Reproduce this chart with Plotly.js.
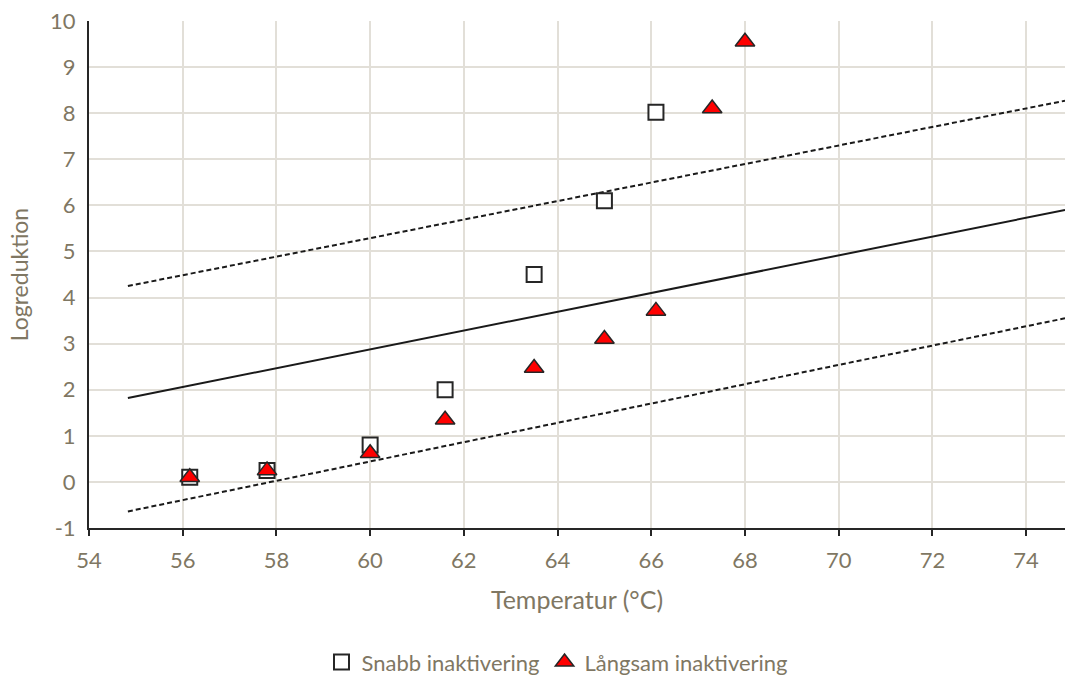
<!DOCTYPE html>
<html><head><meta charset="utf-8">
<script src="https://cdn.plot.ly/plotly-3.0.1.min.js"></script>
<style>body{margin:0;background:#fff}#c{width:1065px;height:675px}</style>
</head><body><div id="c"></div>
<script>
const snabbX = [56.15, 57.8, 60, 61.6, 63.5, 65, 66.1];
const snabbY = [0.1, 0.25, 0.8, 2.0, 4.5, 6.1, 8.02];
const langX = [56.15, 57.8, 60, 61.6, 63.5, 65, 66.1, 67.3, 68];
const langY = [0.1, 0.25, 0.62, 1.35, 2.47, 3.1, 3.71, 8.1, 9.55];
const lineX = [54.83, 74.83];
const midY = [1.82, 5.9];
const upperY = [4.25, 8.27];
const lowerY = [-0.64, 3.55];
const xTicks = [54, 56, 58, 60, 62, 64, 66, 68, 70, 72, 74];
const yTicks = [-1, 0, 1, 2, 3, 4, 5, 6, 7, 8, 9, 10];

const txt = '#7f7763';
const traces = [
  {x: lineX, y: midY, mode: 'lines', line: {color: '#1a1a1a', width: 2}, showlegend: false, hoverinfo: 'skip'},
  {x: lineX, y: upperY, mode: 'lines', line: {color: '#1a1a1a', width: 2, dash: '5px,3px'}, showlegend: false, hoverinfo: 'skip'},
  {x: lineX, y: lowerY, mode: 'lines', line: {color: '#1a1a1a', width: 2, dash: '5px,3px'}, showlegend: false, hoverinfo: 'skip'},
  {x: snabbX, y: snabbY, mode: 'markers', name: 'Snabb inaktivering',
   marker: {symbol: 'square', size: 15, color: '#ffffff', line: {color: '#262626', width: 2}}},
  {x: langX, y: langY, mode: 'markers', name: 'Långsam inaktivering',
   marker: {symbol: 'triangle-up', size: 17, color: '#ff0000', line: {color: '#262626', width: 1.5}}}
];
const layout = {
  width: 1065, height: 675,
  margin: {l: 89, r: 0, t: 21, b: 147, autoexpand: false},
  paper_bgcolor: '#fff', plot_bgcolor: '#fff',
  font: {family: 'Lato, sans-serif', color: txt, size: 22},
  xaxis: {
    range: [54, 74.83], tickvals: xTicks, ticktext: xTicks.map(String),
    showgrid: true, gridcolor: '#e2dfd8', gridwidth: 2, zeroline: false,
    showline: true, linecolor: '#262626', linewidth: 2,
    ticks: 'outside', ticklen: 6, tickcolor: '#262626', tickwidth: 2,
    ticklabelstandoff: 6,
    tickfont: {size: 22, color: txt},
    title: {text: 'Temperatur (°C)', font: {size: 25, color: txt}, standoff: 19}
  },
  yaxis: {
    range: [-1, 10], tickvals: yTicks, ticktext: yTicks.map(String),
    showgrid: true, gridcolor: '#e2dfd8', gridwidth: 2, zeroline: false,
    showline: true, linecolor: '#262626', linewidth: 2,
    ticks: '', ticklabelstandoff: 7, tickfont: {size: 22, color: txt},
    title: {text: 'Logreduktion', font: {size: 23, color: txt}, standoff: 15}
  },
  legend: {orientation: 'h', x: 0.48, xanchor: 'center', yref: 'container', y: 0.019, yanchor: 'middle',
    font: {size: 22, color: txt}, itemwidth: 30},
  showlegend: true
};
Plotly.newPlot('c', traces, layout, {displayModeBar: false, staticPlot: true});
</script></body></html>
